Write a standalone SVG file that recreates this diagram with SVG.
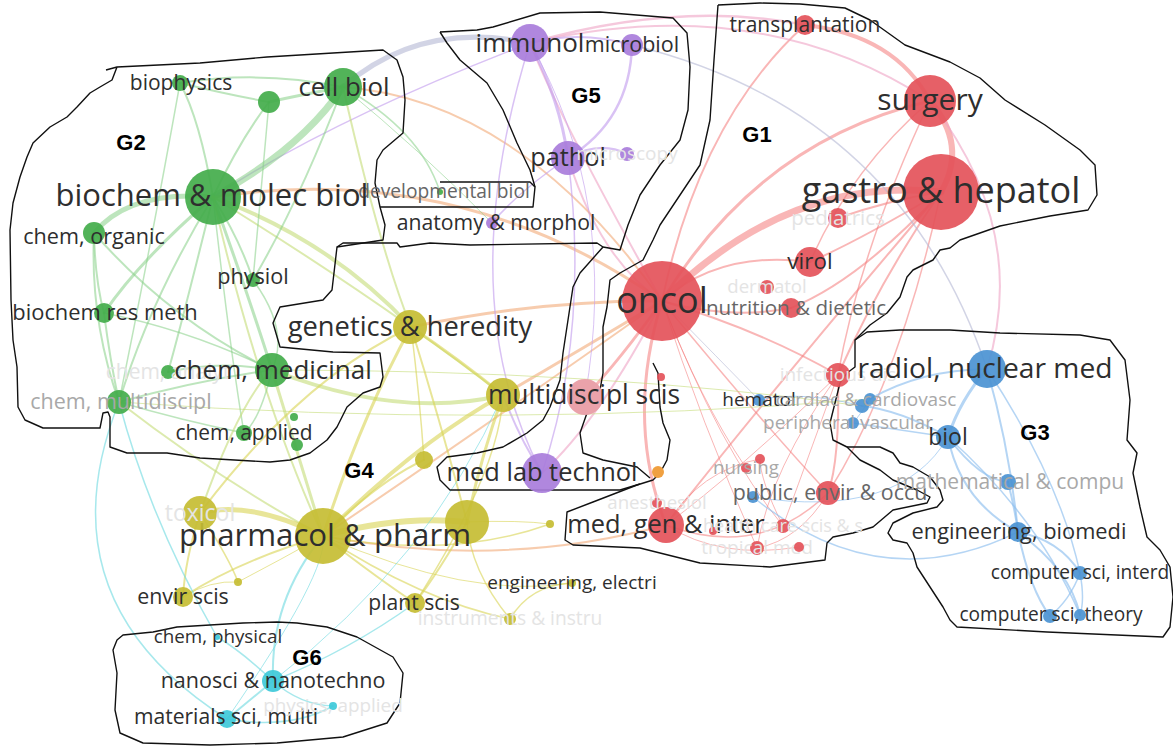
<svg xmlns="http://www.w3.org/2000/svg" width="1173" height="752" viewBox="0 0 1173 752">
<style>
.e{fill:none;stroke-linecap:round}
.er{stroke:#f47a7a;opacity:.55}
.ep{stroke:#efa4c4;opacity:.6}
.eo{stroke:#f2aa78;opacity:.6}
.eg{stroke:#86d086;opacity:.55}
.eyg{stroke:#c4dc78;opacity:.6}
.ey{stroke:#d8d454;opacity:.6}
.ec{stroke:#78dce2;opacity:.65}
.eb{stroke:#8ebeee;opacity:.65}
.eu{stroke:#c4a2ee;opacity:.65}
.ex{stroke:#b4b8d4;opacity:.6}
.nr{fill:#e4525a;opacity:.92}
.ng{fill:#43ad4b;opacity:.92}
.nb{fill:#4b93d3;opacity:.92}
.nu{fill:#a97ddb;opacity:.92}
.ny{fill:#c5bd33;opacity:.92}
.nc{fill:#3ec9d9;opacity:.92}
.no{fill:#f0a040}
.nk{fill:#eaa2aa}
text{font-family:"Open Sans","Noto Sans","DejaVu Sans",sans-serif;text-anchor:middle}
.l{fill:#2e2e2e}
.m{fill:#666}
.g{fill:#a8a8a8}
.f{fill:#e4e4e4}
.G{font-family:"Liberation Sans",Arial,sans-serif;font-weight:bold;font-size:22px;fill:#000;text-anchor:middle}
.o{fill:none;stroke:#111;stroke-width:1.4;stroke-linejoin:round}
</style>
<rect width="1173" height="752" fill="#fff"/>
<g id="connectors">
<path class="e er" stroke-width="7" d="M662,301 Q790,175 941,192"/>
<path class="e er" stroke-width="6" d="M930,101 Q968,145 941,192"/>
<path class="e er" stroke-width="4" d="M805,25 Q895,35 930,101"/>
<path class="e er" stroke-width="3" d="M662,301 Q760,140 930,101"/>
<path class="e er" stroke-width="2" d="M662,301 Q720,250 810,262"/>
<path class="e er" stroke-width="2" d="M662,301 Q730,320 791,308"/>
<path class="e er" stroke-width="2" d="M662,301 Q760,330 838,375"/>
<path class="e er" stroke-width="3" d="M662,301 Q625,420 666,525"/>
<path class="e er" stroke-width="1.5" d="M662,301 Q760,420 828,493"/>
<path class="e er" stroke-width="1" d="M662,301 Q700,420 757,548"/>
<path class="e er" stroke-width="1" d="M662,301 Q720,450 783,526"/>
<path class="e er" stroke-width="1" d="M662,301 Q700,400 746,468"/>
<path class="e er" stroke-width="2" d="M941,192 Q860,240 810,262"/>
<path class="e er" stroke-width="2" d="M941,192 Q860,280 791,308"/>
<path class="e er" stroke-width="2" d="M941,192 Q890,200 838,218"/>
<path class="e er" stroke-width="2" d="M941,192 Q880,280 838,375"/>
<path class="e er" stroke-width="2" d="M941,192 Q780,380 666,525"/>
<path class="e er" stroke-width="1.5" d="M941,192 Q900,380 828,493"/>
<path class="e er" stroke-width="1.5" d="M930,101 Q850,170 810,262"/>
<path class="e er" stroke-width="1.5" d="M930,101 Q860,250 838,375"/>
<path class="e er" stroke-width="2" d="M805,25 Q700,120 662,301"/>
<path class="e er" stroke-width="2" d="M838,375 Q840,460 828,493"/>
<path class="e er" stroke-width="1" d="M838,375 Q800,480 783,526"/>
<path class="e er" stroke-width="1" d="M838,375 Q770,470 757,548"/>
<path class="e er" stroke-width="1" d="M666,525 Q740,470 838,375"/>
<path class="e er" stroke-width="1.5" d="M666,525 Q760,560 828,493"/>
<path class="e er" stroke-width="1" d="M666,525 Q720,560 799,547"/>
<path class="e er" stroke-width="1" d="M828,493 Q800,540 757,548"/>
<path class="e er" stroke-width="1" d="M783,526 Q760,480 760,459"/>
<path class="e er" stroke-width="1" d="M666,525 Q700,470 760,459"/>
<path class="e ep" stroke-width="2.5" d="M530,43 Q680,0 805,25"/>
<path class="e ep" stroke-width="2" d="M530,43 Q760,-10 930,101"/>
<path class="e ep" stroke-width="2" d="M662,301 Q600,260 568,158"/>
<path class="e ep" stroke-width="2" d="M662,301 Q560,120 530,43"/>
<path class="e eo" stroke-width="3" d="M662,301 Q540,300 411,327"/>
<path class="e eo" stroke-width="3" d="M662,301 Q580,350 503,395"/>
<path class="e er" stroke-width="3" d="M662,301 Q620,360 585,397"/>
<path class="e eo" stroke-width="2" d="M666,525 Q500,570 323,536"/>
<path class="e eo" stroke-width="2" d="M662,301 Q480,430 323,536"/>
<path class="e eo" stroke-width="3" d="M662,301 Q460,160 213,197"/>
<path class="e eo" stroke-width="2" d="M662,301 Q520,100 343,87"/>
<path class="e ep" stroke-width="2" d="M662,301 Q600,420 542,473"/>
<path class="e ex" stroke-width="1" d="M662,301 Q720,360 759,400"/>
<path class="e eu" stroke-width="3" d="M530,43 Q560,100 568,158"/>
<path class="e eu" stroke-width="2.5" d="M632,45 Q630,120 568,158"/>
<path class="e eu" stroke-width="2" d="M530,43 Q580,30 632,45"/>
<path class="e eu" stroke-width="2" d="M568,158 Q600,140 627,154"/>
<path class="e eu" stroke-width="1.5" d="M568,158 Q520,190 492,223"/>
<path class="e eu" stroke-width="1.5" d="M568,158 Q590,330 542,473"/>
<path class="e eu" stroke-width="1.5" d="M530,43 Q450,300 542,473"/>
<path class="e eu" stroke-width="1" d="M530,43 Q620,200 585,397"/>
<path class="e eu" stroke-width="2" d="M503,395 Q520,440 542,473"/>
<path class="e eu" stroke-width="1.5" d="M530,43 Q330,120 213,197"/>
<path class="e ex" stroke-width="5" d="M343,87 Q420,20 530,43"/>
<path class="e ex" stroke-width="1.5" d="M632,45 Q900,110 987,369"/>
<path class="e ep" stroke-width="2" d="M930,101 Q1030,230 987,369"/>
<path class="e eg" stroke-width="7" d="M213,197 Q300,150 343,87"/>
<path class="e eg" stroke-width="2" d="M213,197 Q200,120 180,83"/>
<path class="e eg" stroke-width="2" d="M213,197 Q240,140 269,102"/>
<path class="e eg" stroke-width="5" d="M213,197 Q130,190 94,233"/>
<path class="e eg" stroke-width="3" d="M213,197 Q140,260 104,313"/>
<path class="e eg" stroke-width="2" d="M213,197 Q240,240 253,280"/>
<path class="e eg" stroke-width="3" d="M213,197 Q250,300 272,370"/>
<path class="e eg" stroke-width="2" d="M213,197 Q150,300 119,402"/>
<path class="e eg" stroke-width="2" d="M213,197 Q180,330 168,372"/>
<path class="e eg" stroke-width="1.5" d="M213,197 Q230,350 244,433"/>
<path class="e eyg" stroke-width="4" d="M213,197 Q330,240 411,327"/>
<path class="e eyg" stroke-width="2" d="M213,197 Q380,300 503,395"/>
<path class="e eyg" stroke-width="2" d="M213,197 Q260,400 323,536"/>
<path class="e eg" stroke-width="2" d="M180,83 Q260,70 343,87"/>
<path class="e eg" stroke-width="3" d="M269,102 Q300,95 343,87"/>
<path class="e eg" stroke-width="2" d="M180,83 Q230,95 269,102"/>
<path class="e eg" stroke-width="2" d="M343,87 Q300,200 253,280"/>
<path class="e eyg" stroke-width="2" d="M343,87 Q380,250 411,327"/>
<path class="e eg" stroke-width="1" d="M343,87 Q420,150 492,223"/>
<path class="e eg" stroke-width="1.5" d="M343,87 Q420,130 440,192"/>
<path class="e eg" stroke-width="1.5" d="M180,83 Q150,250 119,402"/>
<path class="e eg" stroke-width="2" d="M94,233 Q170,320 272,370"/>
<path class="e eg" stroke-width="2" d="M94,233 Q90,320 119,402"/>
<path class="e eg" stroke-width="2" d="M94,233 Q95,280 104,313"/>
<path class="e eg" stroke-width="2" d="M104,313 Q110,360 119,402"/>
<path class="e eg" stroke-width="1.5" d="M104,313 Q190,330 272,370"/>
<path class="e eg" stroke-width="2" d="M168,372 Q220,360 272,370"/>
<path class="e eyg" stroke-width="4" d="M272,370 Q400,420 503,395"/>
<path class="e eg" stroke-width="1.5" d="M272,370 Q260,420 244,433"/>
<path class="e eyg" stroke-width="3" d="M272,370 Q300,460 323,536"/>
<path class="e eg" stroke-width="2" d="M119,402 Q200,380 272,370"/>
<path class="e eg" stroke-width="1.5" d="M119,402 Q180,420 244,433"/>
<path class="e eyg" stroke-width="2" d="M119,402 Q220,480 323,536"/>
<path class="e eg" stroke-width="1.5" d="M253,280 Q290,330 272,370"/>
<path class="e eg" stroke-width="1.5" d="M269,102 Q260,200 253,280"/>
<path class="e eyg" stroke-width="1" d="M272,370 Q600,370 862,406"/>
<path class="e eyg" stroke-width="1" d="M119,402 Q500,430 870,399"/>
<path class="e ey" stroke-width="5" d="M323,536 Q250,500 200,513"/>
<path class="e ey" stroke-width="3" d="M323,536 Q360,420 411,327"/>
<path class="e ey" stroke-width="4" d="M323,536 Q420,440 503,395"/>
<path class="e ey" stroke-width="6" d="M323,536 Q400,515 467,522"/>
<path class="e ey" stroke-width="2" d="M323,536 Q380,480 424,460"/>
<path class="e ey" stroke-width="2" d="M323,536 Q380,580 415,603"/>
<path class="e ey" stroke-width="2" d="M323,536 Q240,560 183,597"/>
<path class="e ey" stroke-width="1" d="M323,536 Q280,560 238,582"/>
<path class="e ey" stroke-width="1.5" d="M323,536 Q450,560 550,524"/>
<path class="e ey" stroke-width="1.5" d="M323,536 Q420,600 510,619"/>
<path class="e ey" stroke-width="1" d="M323,536 Q470,600 572,583"/>
<path class="e ey" stroke-width="2" d="M200,513 Q185,560 183,597"/>
<path class="e ey" stroke-width="1.5" d="M200,513 Q230,560 238,582"/>
<path class="e ey" stroke-width="1" d="M183,597 Q210,580 238,582"/>
<path class="e ey" stroke-width="3" d="M411,327 Q460,360 503,395"/>
<path class="e ey" stroke-width="1.5" d="M411,327 Q420,400 424,460"/>
<path class="e ey" stroke-width="2" d="M411,327 Q440,420 467,522"/>
<path class="e ey" stroke-width="3" d="M503,395 Q480,460 467,522"/>
<path class="e ey" stroke-width="1.5" d="M503,395 Q500,470 415,603"/>
<path class="e ey" stroke-width="2" d="M467,522 Q440,570 415,603"/>
<path class="e ey" stroke-width="1.5" d="M510,619 Q530,585 572,583"/>
<path class="e ey" stroke-width="2" d="M200,513 Q300,380 411,327"/>
<path class="e eyg" stroke-width="2" d="M200,513 Q240,400 272,370"/>
<path class="e ey" stroke-width="1" d="M467,522 Q520,520 550,524"/>
<path class="e ey" stroke-width="1.5" d="M510,619 Q470,570 467,522"/>
<path class="e ec" stroke-width="2" d="M273,681 Q250,700 227,719"/>
<path class="e ec" stroke-width="1.5" d="M273,681 Q240,650 217,637"/>
<path class="e ec" stroke-width="1.5" d="M273,681 Q300,705 333,706"/>
<path class="e ec" stroke-width="1.5" d="M227,719 Q290,730 333,706"/>
<path class="e ec" stroke-width="2" d="M273,681 Q270,600 323,536"/>
<path class="e ec" stroke-width="1.5" d="M273,681 Q350,650 415,603"/>
<path class="e ec" stroke-width="1.5" d="M227,719 Q40,600 119,402"/>
<path class="e ec" stroke-width="1.5" d="M217,637 Q150,520 119,402"/>
<path class="e ec" stroke-width="1" d="M273,681 Q430,560 503,395"/>
<path class="e ec" stroke-width="1" d="M227,719 Q330,570 323,536"/>
<path class="e eb" stroke-width="3" d="M987,369 Q960,400 948,437"/>
<path class="e eb" stroke-width="2" d="M987,369 Q1010,450 1018,532"/>
<path class="e eb" stroke-width="1.5" d="M987,369 Q1060,480 1080,573"/>
<path class="e eb" stroke-width="2" d="M948,437 Q980,480 1008,482"/>
<path class="e eb" stroke-width="2" d="M948,437 Q960,500 1018,532"/>
<path class="e eb" stroke-width="2" d="M1008,482 Q1015,510 1018,532"/>
<path class="e eb" stroke-width="2" d="M1018,532 Q1060,540 1080,573"/>
<path class="e eb" stroke-width="2" d="M1018,532 Q1030,590 1050,616"/>
<path class="e eb" stroke-width="2" d="M1018,532 Q1070,570 1080,615"/>
<path class="e eb" stroke-width="1.5" d="M1080,573 Q1070,600 1050,616"/>
<path class="e eb" stroke-width="1.5" d="M1080,573 Q1085,600 1080,615"/>
<path class="e eb" stroke-width="1.5" d="M948,437 Q1040,520 1080,615"/>
<path class="e eb" stroke-width="2" d="M987,369 Q920,370 870,399"/>
<path class="e eb" stroke-width="2" d="M948,437 Q900,410 862,406"/>
<path class="e eb" stroke-width="1.5" d="M948,437 Q900,430 853,423"/>
<path class="e eb" stroke-width="1" d="M870,399 Q860,415 853,423"/>
<path class="e eb" stroke-width="1.5" d="M753,497 Q880,600 1018,532"/>
<path class="e eb" stroke-width="1" d="M759,400 Q800,390 862,406"/>
<path class="e eb" stroke-width="1" d="M948,437 Q900,520 753,497"/>
</g>
<g id="outlines">
<path class="o" d="M106,70 L117,67 L200,63 L267,57 L333,53 L383,50 L397,60 L403,77 L405,100 L403,133 L383,150 L377,160 L375,183 L380,207 L385,225 L383,240 L337,247 L332,290 L323,300 L280,307 L273,323 L280,347 L333,352 L380,353 L383,377 L380,387 L363,393 L347,407 L337,427 L327,440 L310,453 L290,460 L270,462 L200,458 L167,453 L127,453 L110,447 L110,417 L108,412 L103,413 L100,428 L43,428 L25,420 L18,407 L17,367 L13,340 L11,300 L10,230 L13,203 L20,177 L27,157 L33,143 L50,127 L67,117 L77,107 L90,93 L100,87 L112,80 L117,67"/>
<path class="o" d="M380,207 L533,207 L535,187 L530,182 L440,182"/>
<path class="o" d="M337,247 L343,243 L397,243 L400,247 L430,243 L470,245 L597,243 L603,247"/>
<path class="o" d="M440,32 L447,43 L460,60 L487,83 L503,110 L517,143 L530,170 L533,180 L535,187"/>
<path class="o" d="M440,32 L477,30 L493,27 L540,13 L600,12 L673,18 L687,33 L690,67 L688,110 L680,140 L660,165 L640,195 L628,225 L620,250 L603,247"/>
<path class="o" d="M603,247 L580,273 L573,287 L563,353 L560,380 L550,407 L543,420 L527,433 L503,447 L477,453 L447,457 L437,467 L440,480 L450,490 L620,490 L640,484"/>
<path class="o" d="M718,5 L760,3 L800,4 L845,8 L870,20 L905,45 L950,62 L980,78 L1005,100 L1045,125 L1080,150 L1095,165 L1097,195 L1088,210 L1050,216 L1000,226 L960,240 L950,248 L940,250 L933,260 L913,270 L907,277 L900,297 L887,313 L870,325 L855,340 L855,367 L847,373 L840,383 L830,423 L833,440 L847,447 L860,460 L880,470 L893,480 L917,490 L930,497 L927,503 L893,510 L873,527 L853,533 L833,537 L827,543 L825,560 L770,567 L700,563 L640,548 L573,545 L565,540 L567,512 L593,502 L637,485 L653,480 L660,473 L667,460 L670,440 L663,423 L660,407 L658,373 L653,363"/>
<path class="o" d="M718,5 L714,60 L710,120 L700,165 L680,195 L660,225 L653,240 L643,260 L620,273 L610,280 L607,307 L603,327 L603,373 L600,390 L587,413 L580,433 L583,453 L603,460 L637,467 L650,478"/>
<path class="o" d="M855,340 L867,332 L900,330 L950,330 L1000,333 L1080,335 L1110,340 L1125,360 L1130,400 L1127,440 L1137,453 L1133,473 L1140,507 L1147,537 L1160,550 L1170,567 L1173,597 L1170,627 L1163,637 L1047,632 L957,627 L950,620 L943,607 L930,587 L917,567 L913,553 L907,543 L893,540 L888,533 L893,523 L913,513 L937,507 L943,500 L940,490 L930,477 L913,467 L900,463 L893,453 L880,447 L847,447"/>
<path class="o" d="M117,640 L123,635 L153,632 L177,627 L243,623 L277,622 L297,623 L327,627 L357,637 L393,657 L403,673 L400,703 L387,723 L343,737 L277,743 L210,745 L143,743 L120,733 L115,710 L117,673 L113,650 Z"/>
</g>
<g id="nodes">
<g id="n-oncol"><circle class="nr" cx="662" cy="301" r="40"/><text class="l" x="662" y="301" dy=".33em" font-size="36">oncol</text></g>
<g id="n-gastro"><circle class="nr" cx="941" cy="192" r="38"/><text class="l" x="941" y="192" dy=".3em" font-size="36">gastro &amp; hepatol</text></g>
<g id="n-surgery"><circle class="nr" cx="930" cy="101" r="26"/><text class="l" x="930" y="101" dy=".3em" font-size="30">surgery</text></g>
<g id="n-transpl"><circle class="nr" cx="805" cy="25" r="10"/><text class="l" x="805" y="25" dy=".33em" font-size="21">transplantation</text></g>
<g id="n-pediat"><circle class="nr" cx="838" cy="218" r="10"/><text class="f" x="838" y="218" dy=".33em" font-size="20.5">pediatrics</text></g>
<g id="n-virol"><circle class="nr" cx="810" cy="262" r="15"/><text class="l" x="810" y="262" dy=".33em" font-size="22.5">virol</text></g>
<g id="n-dermatol"><circle class="nr" cx="767" cy="287" r="7"/><text class="f" x="767" y="287" dy=".33em" font-size="18.6">dermatol</text></g>
<g id="n-nutrition"><circle class="nr" cx="791" cy="308" r="10"/><text class="m" x="796" y="308" dy=".33em" font-size="20.6">nutrition &amp; dietetic</text></g>
<g id="n-infect"><circle class="nr" cx="838" cy="375" r="12"/><text class="f" x="838" y="375" dy=".33em" font-size="19">infectious dis</text></g>
<g id="n-red2"><circle class="nr" cx="661" cy="377" r="4"/></g>
<g id="n-medgen"><circle class="nr" cx="666" cy="525" r="18"/><text class="l" x="666" y="525" dy=".33em" font-size="25.4">med, gen &amp; inter</text></g>
<g id="n-anesth"><circle class="nr" cx="657" cy="503" r="5"/><text class="f" x="657" y="503" dy=".33em" font-size="18.7">anesthesiol</text></g>
<g id="n-red3"><circle class="nr" cx="713" cy="531" r="4"/></g>
<g id="n-health"><circle class="nr" cx="783" cy="526" r="7"/><text class="f" x="783" y="526" dy=".33em" font-size="18">health care scis &amp; s</text></g>
<g id="n-tropical"><circle class="nr" cx="757" cy="548" r="7"/><text class="f" x="757" y="548" dy=".33em" font-size="19">tropical med</text></g>
<g id="n-red4"><circle class="nr" cx="799" cy="547" r="5"/></g>
<g id="n-red5"><circle class="nr" cx="760" cy="459" r="5"/></g>
<g id="n-nursing"><circle class="nr" cx="746" cy="468" r="5"/><text class="g" x="746" y="468" dy=".33em" font-size="18.7">nursing</text></g>
<g id="n-blue7"><circle class="nb" cx="753" cy="497" r="6"/></g>
<g id="n-public"><circle class="nr" cx="828" cy="493" r="12"/><text class="m" x="830" y="493" dy=".33em" font-size="21.4">public, envir &amp; occu</text></g>
<g id="n-orange"><circle class="no" cx="658" cy="472" r="6"/></g>
<g id="n-multi-p"><circle class="nk" cx="585" cy="397" r="18"/></g>
<g id="n-multi"><circle class="ny" cx="503" cy="395" r="17"/><text class="l" x="584" y="395" dy=".33em" font-size="26.4">multidiscipl scis</text></g>
<g id="n-genetics"><circle class="ny" cx="410" cy="327" r="17"/><text class="l" x="410" y="327" dy=".33em" font-size="27.3">genetics &amp; heredity</text></g>
<g id="n-y1"><circle class="ny" cx="424" cy="460" r="9"/></g>
<g id="n-y2"><circle class="ny" cx="467" cy="522" r="22"/></g>
<g id="n-pharmacol"><circle class="ny" cx="323" cy="536" r="28"/><text class="l" x="325" y="536" dy=".33em" font-size="31.2">pharmacol &amp; pharm</text></g>
<g id="n-toxicol"><circle class="ny" cx="200" cy="513" r="17"/><text class="f" x="200" y="513" dy=".33em" font-size="23">toxicol</text></g>
<g id="n-envir"><circle class="ny" cx="183" cy="597" r="10"/><text class="l" x="183" y="597" dy=".33em" font-size="21.4">envir scis</text></g>
<g id="n-y3"><circle class="ny" cx="238" cy="582" r="4"/></g>
<g id="n-plant"><circle class="ny" cx="415" cy="603" r="10"/><text class="l" x="414" y="603" dy=".33em" font-size="21.1">plant scis</text></g>
<g id="n-y4"><circle class="ny" cx="550" cy="524" r="4"/></g>
<g id="n-engel"><circle class="ny" cx="572" cy="583" r="4"/><text class="l" x="572" y="583" dy=".33em" font-size="19">engineering, electri</text></g>
<g id="n-instr"><circle class="ny" cx="510" cy="619" r="6"/><text class="f" x="510" y="619" dy=".33em" font-size="19.2">instruments &amp; instru</text></g>
<g id="n-immunol"><circle class="nu" cx="530" cy="43" r="19"/><text class="l" x="530" y="43" dy=".33em" font-size="26">immunol</text></g>
<g id="n-microbiol"><circle class="nu" cx="632" cy="45" r="11"/><text class="l" x="632" y="45" dy=".33em" font-size="21.5">microbiol</text></g>
<g id="n-pathol"><circle class="nu" cx="568" cy="158" r="17"/><text class="l" x="568" y="158" dy=".33em" font-size="25.3">pathol</text></g>
<g id="n-microscopy"><circle class="nu" cx="627" cy="154" r="7"/><text class="f" x="627" y="154" dy=".33em" font-size="19">microscopy</text></g>
<g id="n-anatomy"><circle class="nu" cx="492" cy="223" r="6"/><text class="l" x="496" y="223" dy=".33em" font-size="21.2">anatomy &amp; morphol</text></g>
<g id="n-medlab"><circle class="nu" cx="542" cy="473" r="20"/><text class="l" x="542" y="473" dy=".33em" font-size="25.4">med lab technol</text></g>
<g id="n-devel"><circle class="ng" cx="440" cy="192" r="3"/><text class="m" x="444" y="192" dy=".33em" font-size="19.2">developmental biol</text></g>
<g id="n-biochem"><circle class="ng" cx="213" cy="197" r="28"/><text class="l" x="212" y="197" dy=".3em" font-size="31">biochem &amp; molec biol</text></g>
<g id="n-cellbiol"><circle class="ng" cx="343" cy="87" r="19"/><text class="l" x="344" y="87" dy=".33em" font-size="25.9">cell biol</text></g>
<g id="n-biophys"><circle class="ng" cx="180" cy="83" r="8"/><text class="l" x="181" y="83" dy=".33em" font-size="21">biophysics</text></g>
<g id="n-g1"><circle class="ng" cx="269" cy="102" r="11"/></g>
<g id="n-chemorg"><circle class="ng" cx="94" cy="233" r="11"/><text class="l" x="94" y="237" dy=".33em" font-size="21.6">chem, organic</text></g>
<g id="n-physiol"><circle class="ng" cx="253" cy="280" r="7"/><text class="l" x="253" y="277" dy=".33em" font-size="21.6">physiol</text></g>
<g id="n-biores"><circle class="ng" cx="104" cy="313" r="10"/><text class="l" x="105" y="313" dy=".33em" font-size="21.9">biochem res meth</text></g>
<g id="n-chemx"><circle class="ng" cx="168" cy="372" r="7"/><text class="f" x="168" y="372" dy=".33em" font-size="21">chem, analyt</text></g>
<g id="n-chemmed"><circle class="ng" cx="272" cy="370" r="17"/><text class="l" x="273" y="370" dy=".33em" font-size="26">chem, medicinal</text></g>
<g id="n-chemmulti"><circle class="ng" cx="119" cy="402" r="12"/><text class="g" x="121" y="402" dy=".33em" font-size="21.5">chem, multidiscipl</text></g>
<g id="n-g2"><circle class="ng" cx="294" cy="417" r="4"/></g>
<g id="n-chemapp"><circle class="ng" cx="244" cy="433" r="8"/><text class="l" x="244" y="433" dy=".33em" font-size="20.9">chem, applied</text></g>
<g id="n-g3"><circle class="ng" cx="297" cy="445" r="6"/></g>
<g id="n-chemphys"><circle class="nc" cx="217" cy="637" r="3"/><text class="l" x="218" y="637" dy=".33em" font-size="18.8">chem, physical</text></g>
<g id="n-nano"><circle class="nc" cx="273" cy="681" r="11"/><text class="l" x="273" y="681" dy=".33em" font-size="21.5">nanosci &amp; nanotechno</text></g>
<g id="n-materials"><circle class="nc" cx="227" cy="719" r="9"/><text class="l" x="226" y="717" dy=".33em" font-size="21.1">materials sci, multi</text></g>
<g id="n-physapp"><circle class="nc" cx="333" cy="706" r="4"/><text class="f" x="333" y="706" dy=".33em" font-size="18.9">physics, applied</text></g>
<g id="n-radiol"><circle class="nb" cx="987" cy="369" r="19"/><text class="l" x="985" y="369" dy=".33em" font-size="28.2">radiol, nuclear med</text></g>
<g id="n-biol"><circle class="nb" cx="948" cy="437" r="12"/><text class="l" x="948" y="437" dy=".33em" font-size="23">biol</text></g>
<g id="n-math"><circle class="nb" cx="1008" cy="482" r="8"/><text class="g" x="1010" y="482" dy=".33em" font-size="21">mathematical &amp; compu</text></g>
<g id="n-engbio"><circle class="nb" cx="1018" cy="532" r="10"/><text class="l" x="1019" y="532" dy=".33em" font-size="21.8">engineering, biomedi</text></g>
<g id="n-compint"><circle class="nb" cx="1080" cy="573" r="7"/><text class="l" x="1080" y="573" dy=".33em" font-size="19.1">computer sci, interd</text></g>
<g id="n-compth"><circle class="nb" cx="1050" cy="616" r="7"/><circle class="nb" cx="1080" cy="615" r="6"/><text class="l" x="1051" y="615" dy=".33em" font-size="19.1">computer sci, theory</text></g>
<g id="n-hematol"><circle class="nb" cx="759" cy="400" r="6"/><text class="l" x="759" y="400" dy=".33em" font-size="19">hematol</text></g>
<g id="n-cardiac"><circle class="nb" cx="870" cy="399" r="6"/><circle class="nb" cx="862" cy="406" r="7"/><text class="g" x="866" y="400" dy=".33em" font-size="19">cardiac &amp; cardiovasc</text></g>
<g id="n-periph"><circle class="nb" cx="853" cy="423" r="6"/><text class="g" x="848" y="423" dy=".33em" font-size="19">peripheral vascular</text></g>
</g>
<g id="group-labels">
<text class="G" x="757" y="142">G1</text>
<text class="G" x="131" y="150">G2</text>
<text class="G" x="1035" y="440">G3</text>
<text class="G" x="359" y="478">G4</text>
<text class="G" x="586" y="103">G5</text>
<text class="G" x="307" y="665">G6</text>
</g>
</svg>
